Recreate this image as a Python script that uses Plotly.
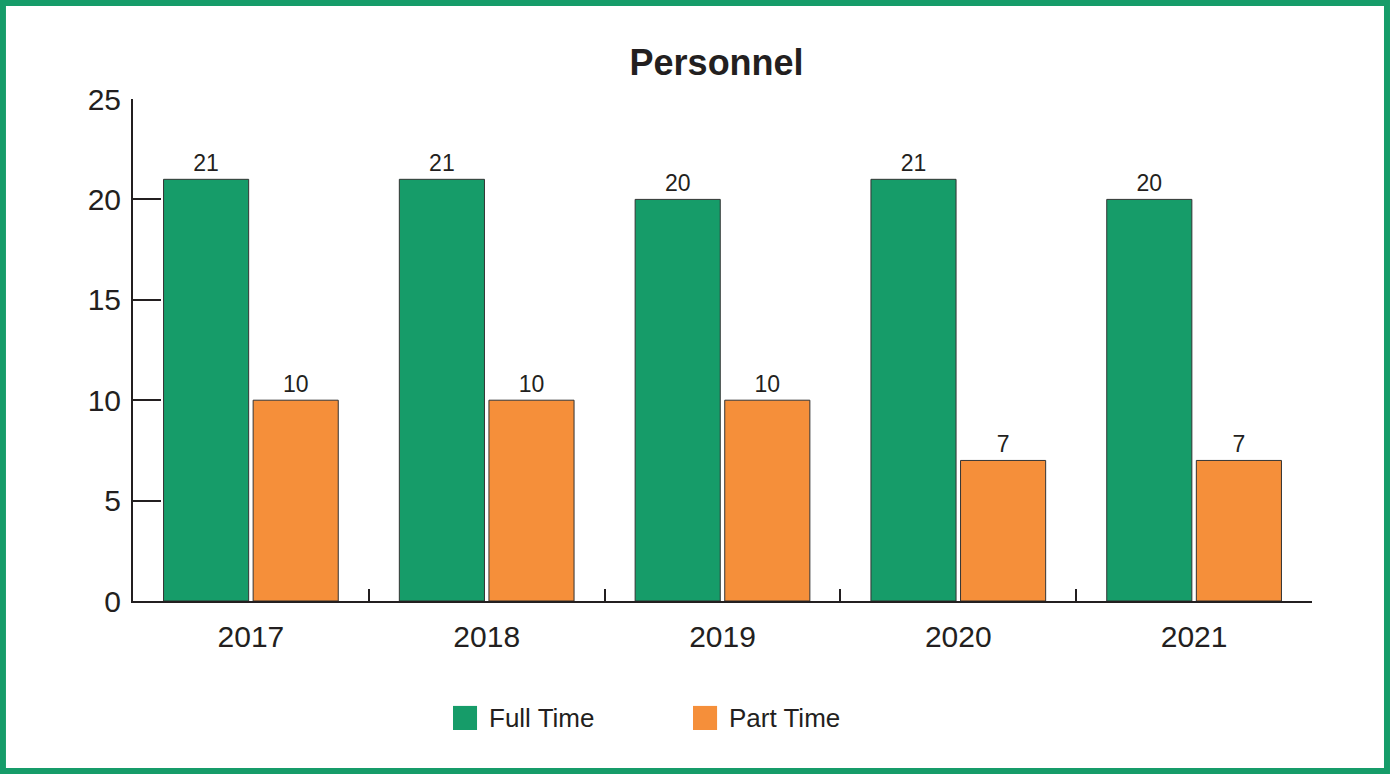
import plotly.graph_objects as go

# data
years = ["2017", "2018", "2019", "2020", "2021"]
full_time = [21, 21, 20, 21, 20]
part_time = [10, 10, 10, 7, 7]

GREEN = "#169c69"
ORANGE = "#f58f3a"
INK = "#231f20"

fig = go.Figure()
fig.add_trace(go.Bar(
    x=years, y=full_time, name="Full Time",
    marker=dict(color=GREEN, line=dict(color="#333333", width=1)),
    text=full_time, textposition="outside",
    textfont=dict(family="Liberation Sans, Arial, sans-serif", size=23, color=INK),
    cliponaxis=False, showlegend=False,
))
fig.add_trace(go.Bar(
    x=years, y=part_time, name="Part Time",
    marker=dict(color=ORANGE, line=dict(color="#333333", width=1)),
    text=part_time, textposition="outside",
    textfont=dict(family="Liberation Sans, Arial, sans-serif", size=23, color=INK),
    cliponaxis=False, showlegend=False,
))

# legend drawn by hand (big squares)
shapes = [
    # outer green frame
    dict(type="rect", xref="paper", yref="paper",
         x0=-0.1103, x1=1.0636, y0=-0.3386, y1=1.191,
         line=dict(color=GREEN, width=6), fillcolor="rgba(0,0,0,0)"),
    dict(type="rect", xref="paper", yref="paper",
         x0=0.2714, x1=0.2918, y0=-0.257, y1=-0.209,
         line=dict(width=0), fillcolor=GREEN),
    dict(type="rect", xref="paper", yref="paper",
         x0=0.4750, x1=0.4954, y0=-0.257, y1=-0.209,
         line=dict(width=0), fillcolor=ORANGE),
]
annotations = [
    dict(text="Full Time", xref="paper", yref="paper", x=0.3000, y=-0.233,
         xanchor="left", yanchor="middle", showarrow=False,
         font=dict(size=26, color=INK)),
    dict(text="Part Time", xref="paper", yref="paper", x=0.5036, y=-0.233,
         xanchor="left", yanchor="middle", showarrow=False,
         font=dict(size=26, color=INK)),
]

fig.update_layout(
    width=1390, height=774,
    margin=dict(l=133, r=78, t=99, b=173),
    paper_bgcolor="white", plot_bgcolor="white",
    font=dict(family="Liberation Sans, Arial, sans-serif", color=INK),
    title=dict(text="<b>Personnel</b>", x=0.495, xref="paper", xanchor="center",
               y=1 - 62 / 774, yanchor="middle", font=dict(size=36, color=INK)),
    barmode="group", bargap=0.24, bargroupgap=0.05,
    shapes=shapes, annotations=annotations,
)
fig.update_xaxes(
    showline=True, linecolor=INK, linewidth=2,
    ticks="inside", tickson="boundaries", ticklen=12, tickwidth=2, tickcolor=INK,
    tickfont=dict(size=30, color=INK), ticklabelstandoff=8,
    showgrid=False,
)
fig.update_yaxes(
    range=[0, 25], dtick=5,
    showline=True, linecolor=INK, linewidth=2,
    ticks="inside", ticklen=28, tickwidth=2, tickcolor=INK,
    tickfont=dict(size=30, color=INK), ticklabelstandoff=4,
    showgrid=False, zeroline=False,
)

# drop the browser's default page margin so the figure sits at the corner
fig.write_html("out.html", config={"displayModeBar": False},
               post_script="document.body.style.margin='0';")
